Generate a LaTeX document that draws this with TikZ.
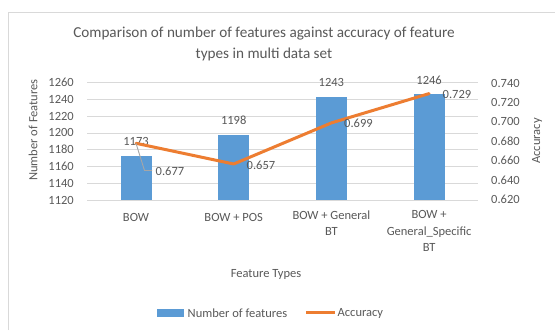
\documentclass[tikz,border=0pt]{standalone}
\usepackage{fontspec}
\setmainfont{Carlito}
\definecolor{barblue}{HTML}{5B9BD5}
\definecolor{lineorange}{HTML}{ED7D31}
\definecolor{gridgray}{HTML}{D9D9D9}
\definecolor{txtgray}{HTML}{595959}
\definecolor{framegray}{HTML}{D9D9D9}
\definecolor{leadergray}{HTML}{A6A6A6}
\begin{document}
\begin{tikzpicture}[x=1pt,y=-1pt,
  lbl/.style={inner sep=0pt,text=txtgray,font=\fontsize{12.5}{15}\selectfont},
  ttl/.style={inner sep=0pt,text=txtgray,font=\fontsize{15.2}{21.7}\selectfont,align=center},
  grid/.style={draw=gridgray,line width=0.9pt},
  bar/.style={fill=barblue,draw=none},
  series/.style={draw=lineorange,line width=3pt,line join=round,line cap=round},
  leader/.style={draw=leadergray,line width=0.9pt}]
\useasboundingbox (0,0) rectangle (555,330);
\fill[white] (0,0) rectangle (555,330);
\draw[framegray,line width=1pt] (8,330) -- (8,12) -- (555,12);
% title
\node[ttl] (title) at (264,44) {Comparison of number of features against accuracy of feature\\types in multi data set};
% grid lines and tick labels
\foreach \k/\lv in {0/1120,1/1140,2/1160,3/1180,4/1200,5/1220,6/1240,7/1260}{
  \pgfmathsetmacro{\yy}{200-\k*16.76}
  \draw[grid] (87,\yy) -- (478,\yy);
  \node[lbl,anchor=east] (l\k) at (74,\yy) {\lv};
}
\foreach \k/\rv in {0/0.620,1/0.640,2/0.660,3/0.680,4/0.700,5/0.720,6/0.740}{
  \pgfmathsetmacro{\yy}{199.3-\k*19.33}
  \node[lbl,anchor=west] (r\k) at (491,\yy) {\rv};
}
% axis titles
\node[lbl,rotate=90] (ytitle) at (33,130) {Number of Features};
\node[lbl,rotate=90] (y2title) at (537,141) {Accuracy};
% bars
\foreach \i/\cx/\v in {1/136/1173,2/233.7/1198,3/331.4/1243,4/429.1/1246}{
  \pgfmathsetmacro{\top}{200-(\v-1120)*0.838}
  \fill[bar] (\cx-15.5,200) rectangle (\cx+15.5,\top);
  \pgfmathsetmacro{\ly}{\top-14.5}
  \node[lbl] (b\i) at (\cx,\ly) {\v};
}
% line series
\coordinate (p1) at (136,143.3);
\coordinate (p2) at (233.7,164);
\coordinate (p3) at (331.4,122.9);
\coordinate (p4) at (429.1,93.6);
\draw[series] (p1) -- (p2) -- (p3) -- (p4);
% accuracy labels
\coordinate (k1) at (144.5,170.5);
\coordinate (k2) at (152,170.5);
\draw[leader] (p1) -- (k1) -- (k2);
\node[lbl,anchor=west] (a1) at (155.5,171.5) {0.677};
\node[lbl,anchor=west] (a2) at (246.5,165) {0.657};
\node[lbl,anchor=west] (a3) at (344,123.3) {0.699};
\node[lbl,anchor=west] (a4) at (442.5,94.3) {0.729};
% category labels
\node[lbl] (c1) at (136,217.7) {BOW};
\node[lbl] (c2) at (233.7,217.7) {BOW + POS};
\node[lbl,align=center,font=\fontsize{12.5}{16.5}\selectfont,anchor=north] (c3) at (331.4,210.5) {BOW + General\\BT};
\node[lbl,align=center,font=\fontsize{12.5}{16.5}\selectfont,anchor=north] (c4) at (429.1,210.5) {BOW +\\General\_Specific\\BT};
% x axis title
\node[lbl] (xtitle) at (266,274) {Feature Types};
% legend
\fill[barblue] (156.7,309.3) rectangle (184.3,316.7);
\node[lbl,anchor=west] (leg1) at (187.5,313) {Number of features};
\draw[series,line cap=butt] (306,312.7) -- (335,312.7);
\node[lbl,anchor=west] (leg2) at (337.5,313) {Accuracy};
\end{tikzpicture}
\end{document}
